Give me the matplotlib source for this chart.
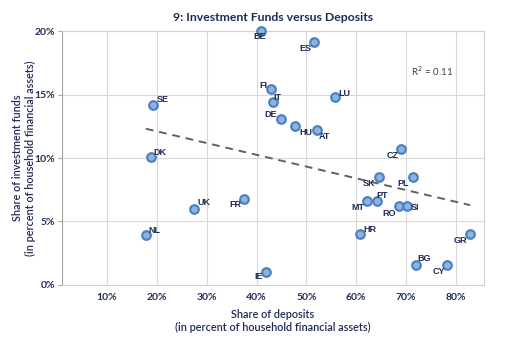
import numpy as np
import matplotlib
matplotlib.use("Agg")
from matplotlib import pyplot as plt
from matplotlib.ticker import PercentFormatter

# Share of deposits / share of investment funds (fractions of household financial assets)
countries = ['BE', 'ES', 'FI', 'IT', 'DE', 'HU', 'AT', 'LU', 'SE', 'CZ', 'DK', 'SK', 'PL',
             'PT', 'MT', 'RO', 'SI', 'FR', 'UK', 'NL', 'HR', 'GR', 'BG', 'CY', 'IE']
deposits = [0.409, 0.515, 0.428, 0.432, 0.449, 0.478, 0.521, 0.558, 0.193, 0.690, 0.188, 0.645,
            0.713, 0.641, 0.622, 0.685, 0.701, 0.375, 0.275, 0.178, 0.608, 0.828, 0.719, 0.781, 0.419]
funds = [0.200, 0.191, 0.154, 0.144, 0.131, 0.125, 0.122, 0.148, 0.142, 0.107, 0.101, 0.085,
         0.085, 0.066, 0.066, 0.062, 0.062, 0.068, 0.060, 0.039, 0.040, 0.040, 0.016, 0.016, 0.010]
r_squared = 0.11

x_ticks = [0.1, 0.2, 0.3, 0.4, 0.5, 0.6, 0.7, 0.8]
y_ticks = [0.0, 0.05, 0.10, 0.15, 0.20]

# label offsets in pixels (dx right, dy up)
offsets = {
    'BE': (-1, -5), 'ES': (-9, -6), 'FI': (-7, 4), 'IT': (5, 5), 'DE': (-10, 4),
    'HU': (10, -6), 'AT': (8, -6), 'LU': (9, 4), 'SE': (9, 5), 'CZ': (-9, -6),
    'DK': (9, 4), 'SK': (-10, -6), 'PL': (-10, -6), 'PT': (5, 6), 'MT': (-9, -6),
    'RO': (-10, -7), 'SI': (8, -1), 'FR': (-9, -6), 'UK': (10, 6), 'NL': (9, 5),
    'HR': (10, 5), 'GR': (-10, -6), 'BG': (8, 6), 'CY': (-8, -7), 'IE': (-7, -4),
}

navy = '#1f2b55'
plt.rcParams['font.family'] = ['Lato', 'DejaVu Sans']

fig = plt.figure(figsize=(5.11, 3.45), dpi=100)
fig.patch.set_facecolor('white')
ax = fig.add_axes([0.1213, 0.174, 0.826, 0.736])

ax.set_xlim(0.01, 0.856)
ax.set_ylim(0, 0.2)
ax.set_xticks(x_ticks)
ax.set_yticks(y_ticks)
ax.xaxis.set_major_formatter(PercentFormatter(1.0, decimals=0))
ax.yaxis.set_major_formatter(PercentFormatter(1.0, decimals=0))
ax.grid(True, color='#d9d9d9', lw=0.8)
ax.set_axisbelow(True)
for s in ax.spines.values():
    s.set_color('#d0d0d0')
ax.spines['left'].set_color('#a6a6a6')
ax.tick_params(axis='x', length=0, pad=6, labelsize=7.5, labelcolor=navy)
ax.tick_params(axis='y', length=3, color='#a6a6a6', pad=2, labelsize=7.5, labelcolor=navy)
for lbl in ax.get_xticklabels() + ax.get_yticklabels():
    lbl.set_fontweight('bold')

# linear trend line over the data range
x = np.array(deposits)
y = np.array(funds)
slope, intercept = np.polyfit(x, y, 1)
xs = np.array([x.min(), x.max()])
ax.plot(xs, slope * xs + intercept, color='#606060', lw=1.4, ls=(0, (4, 3)), zorder=2)

ax.scatter(deposits, funds, s=38, facecolor='#8db4e2', edgecolor='#4f81bd',
           linewidth=1.6, zorder=3, clip_on=False)

for c, xv, yv in zip(countries, deposits, funds):
    dx, dy = offsets[c]
    ax.annotate(c, (xv, yv), xytext=(dx, dy), textcoords='offset pixels',
                ha='center', va='center', fontsize=6.5, fontweight='bold',
                color=navy, family=['Liberation Sans', 'DejaVu Sans'], zorder=4)

ax.text(0.751, 0.1686, 'R$^2$ = %.2f' % r_squared, ha='center', va='center',
        fontsize=7, color='#404040')

ax.set_title('9: Investment Funds versus Deposits', fontsize=8.8, fontweight='bold',
             color=navy, pad=7)
ax.set_xlabel('Share of deposits\n(in percent of household financial assets)',
              fontsize=7.8, fontweight='semibold', color=navy, labelpad=5, linespacing=1.2)
ax.set_ylabel('Share of investment funds\n(in percent of household financial assets)',
              fontsize=7.8, fontweight='semibold', color=navy, labelpad=-1, linespacing=1.2)

fig.savefig('out.png', dpi=100)
